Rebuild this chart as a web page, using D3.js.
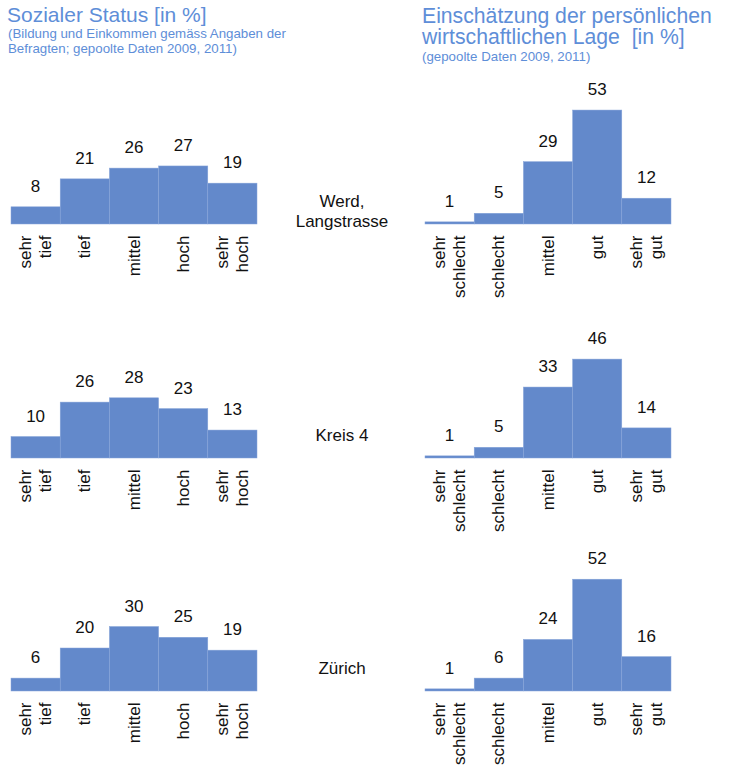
<!DOCTYPE html>
<html>
<head>
<meta charset="utf-8">
<script src="https://cdn.jsdelivr.net/npm/d3@7"></script>
<style>
  html, body { margin: 0; padding: 0; background: #ffffff; }
  svg { display: block; font-family: "Liberation Sans", Arial, sans-serif; }
</style>
</head>
<body>
<svg id="chart" width="743" height="774"></svg>
<script>
// ---- Data ----
const statusCategories = ["sehr\ntief", "tief", "mittel", "hoch", "sehr\nhoch"];
const lageCategories = ["sehr\nschlecht", "schlecht", "mittel", "gut", "sehr\ngut"];
const regions = ["Werd,\nLangstrasse", "Kreis 4", "Zürich"];

const statusWerd = [8, 21, 26, 27, 19];
const statusKreis4 = [10, 26, 28, 23, 13];
const statusZuerich = [6, 20, 30, 25, 19];

const lageWerd = [1, 5, 29, 53, 12];
const lageKreis4 = [1, 5, 33, 46, 14];
const lageZuerich = [1, 6, 24, 52, 16];

const statusTitle = "Sozialer Status [in %]";
const statusSubtitle = ["(Bildung und Einkommen gemäss Angaben der", "Befragten; gepoolte Daten 2009, 2011)"];
const lageTitle = ["Einschätzung der persönlichen", "wirtschaftlichen Lage  [in %]"];
const lageSubtitle = "(gepoolte Daten 2009, 2011)";

// ---- Layout ----
const svg = d3.select("#chart");
const titleColor = "#5e8ed8";
const barColor = "#6389cb";
const barStroke = "#88a5d9";
const textColor = "#111111";

const statusSeries = [statusWerd, statusKreis4, statusZuerich];
const lageSeries = [lageWerd, lageKreis4, lageZuerich];
const rowBaselines = [224, 458, 691];
const leftX = 11, rightX = 425, chartW = 246;
const barMaxH = 215; // px for 100 %
const regionX = 342;

// Titles
svg.append("text").attr("x", 7).attr("y", 22)
  .attr("font-size", 21).attr("fill", titleColor).text(statusTitle);
statusSubtitle.forEach((t, i) => {
  svg.append("text").attr("x", 8).attr("y", 38 + i * 15)
    .attr("font-size", 13.3).attr("fill", titleColor).text(t);
});
lageTitle.forEach((t, i) => {
  svg.append("text").attr("x", 422).attr("y", 23 + i * 21)
    .attr("font-size", 21.2).attr("fill", titleColor).attr("xml:space", "preserve").text(t);
});
svg.append("text").attr("x", 422).attr("y", 61)
  .attr("font-size", 13.3).attr("fill", titleColor).text(lageSubtitle);

function drawChart(values, categories, x0, baseline) {
  const x = d3.scaleBand().domain(categories).range([x0, x0 + chartW]).padding(0);
  const y = d3.scaleLinear().domain([0, 100]).range([baseline, baseline - barMaxH]);
  const g = svg.append("g");
  const data = categories.map((c, i) => ({ c, v: values[i] }));

  g.selectAll("rect").data(data).enter().append("rect")
    .attr("x", d => x(d.c))
    .attr("y", d => y(d.v))
    .attr("width", x.bandwidth())
    .attr("height", d => y(0) - y(d.v))
    .attr("fill", barColor)
    .attr("stroke", barStroke)
    .attr("stroke-width", 0.5);

  g.selectAll("text.val").data(data).enter().append("text")
    .attr("class", "val")
    .attr("x", d => x(d.c) + x.bandwidth() / 2)
    .attr("y", d => y(d.v) - 15)
    .attr("text-anchor", "middle")
    .attr("font-size", 17)
    .attr("fill", textColor)
    .text(d => d.v);

  // category labels, rotated
  data.forEach(d => {
    const lines = d.c.split("\n");
    const cx = x(d.c) + x.bandwidth() / 2;
    const ay = baseline + 11.5;
    const lh = 20.5;
    lines.forEach((ln, i) => {
      const bx = cx + 5.5 - (lines.length - 1) * lh / 2 + i * lh;
      g.append("text")
        .attr("transform", `translate(${bx},${ay}) rotate(-90)`)
        .attr("text-anchor", "end")
        .attr("font-size", 17)
        .attr("fill", textColor)
        .text(ln);
    });
  });
}

rowBaselines.forEach((b, r) => {
  drawChart(statusSeries[r], statusCategories, leftX, b);
  drawChart(lageSeries[r], lageCategories, rightX, b);
  const lines = regions[r].split("\n");
  lines.forEach((ln, i) => {
    svg.append("text")
      .attr("x", regionX)
      .attr("y", b - 17 + i * 19.5)
      .attr("text-anchor", "middle")
      .attr("font-size", 17)
      .attr("fill", textColor)
      .text(ln);
  });
});
</script>
</body>
</html>
